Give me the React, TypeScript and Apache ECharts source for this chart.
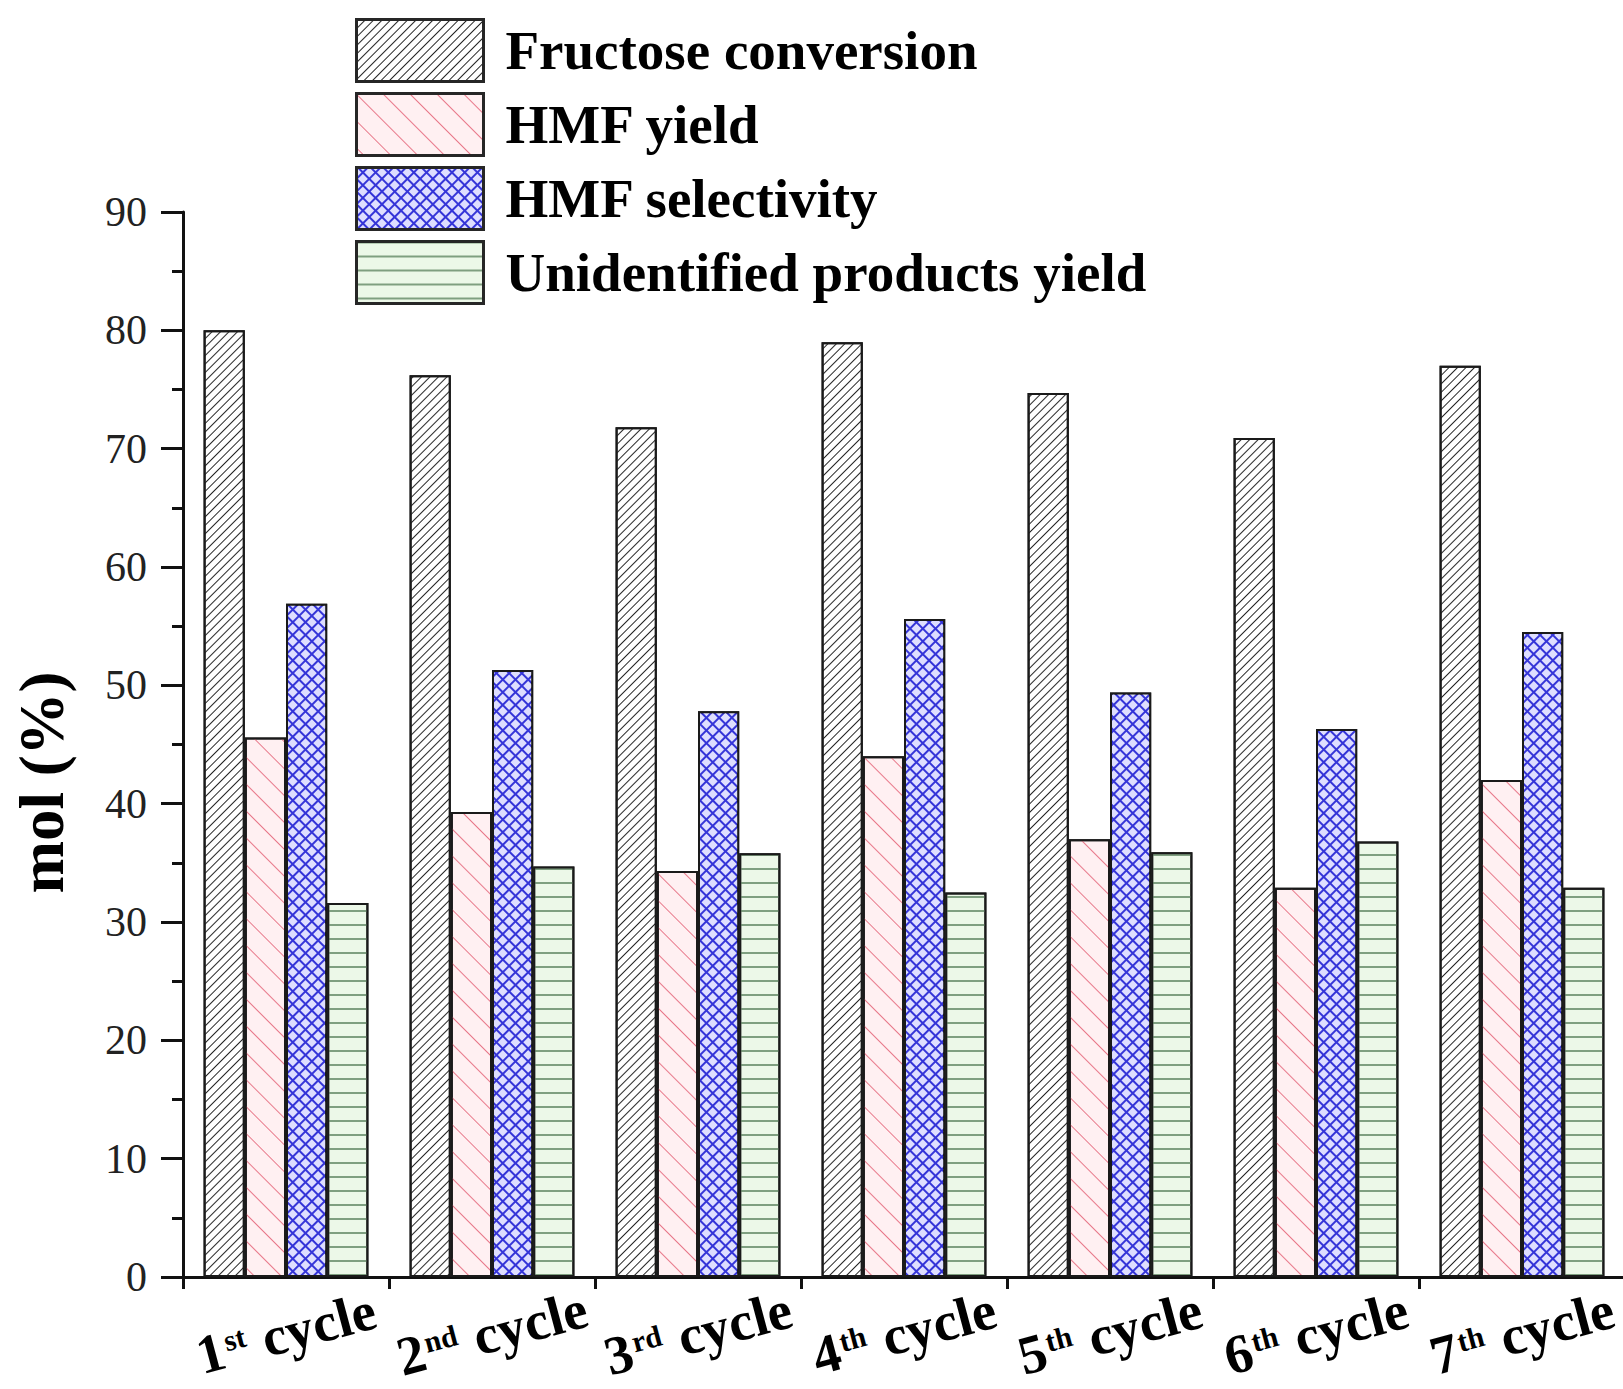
import React, { useEffect, useRef } from "react";
import * as echarts from "echarts";

const categories = ["1st cycle", "2nd cycle", "3rd cycle", "4th cycle", "5th cycle", "6th cycle", "7th cycle"];
const seriesNames = ["Fructose conversion", "HMF yield", "HMF selectivity", "Unidentified products yield"];
const fructoseConversion = [80.0, 76.2, 71.8, 79.0, 74.7, 70.9, 77.0];
const hmfYield = [45.6, 39.3, 34.3, 44.0, 37.0, 32.9, 42.0];
const hmfSelectivity = [56.9, 51.3, 47.8, 55.6, 49.4, 46.3, 54.5];
const unidentifiedYield = [31.6, 34.7, 35.8, 32.5, 35.9, 36.8, 32.9];
const yTicks = { min: 0, max: 90, interval: 10 };
const yAxisName = "mol (%)";

const FONT = "'Liberation Serif', 'Times New Roman', serif";

export default function App() {
  const ref = useRef<HTMLDivElement>(null);
  useEffect(() => {
    if (!ref.current) return;
    const chart = echarts.init(ref.current, null, { renderer: "svg" });
    const border = { borderColor: "#1a1a1a", borderWidth: 2 };
    const styles = [
      {
        color: "#ffffff",
        ...border,
        decal: { symbol: "rect", color: "#262626", dashArrayX: [1, 0], dashArrayY: [1, 5], rotation: -Math.PI / 4 },
      },
      {
        color: "#fff0f2",
        ...border,
        decal: { symbol: "rect", color: "#e8788a", dashArrayX: [1, 0], dashArrayY: [1, 18], rotation: Math.PI / 4 },
      },
      {
        color: "#3535d8",
        ...border,
        decal: { symbol: "rect", color: "#dedeff", dashArrayX: [7, 2], dashArrayY: [7, 2], rotation: Math.PI / 4 },
      },
      {
        color: "#ecf8e8",
        ...border,
        decal: { symbol: "rect", color: "#7f9f80", dashArrayX: [1, 0], dashArrayY: [2, 12], rotation: 0 },
      },
    ];
    const dataSets = [fructoseConversion, hmfYield, hmfSelectivity, unidentifiedYield];
    chart.setOption({
      animation: false,
      backgroundColor: "#ffffff",
      textStyle: { fontFamily: FONT },
      legend: {
        orient: "vertical",
        left: 355,
        top: 18,
        padding: 0,
        itemWidth: 127,
        itemHeight: 62,
        itemGap: 9,
        icon: "rect",
        selectedMode: false,
        data: seriesNames,
        itemStyle: { borderWidth: 3, borderColor: "#262626" },
        formatter: (name: string) => "{a|" + name + "}",
        textStyle: {
          rich: {
            a: {
              fontFamily: FONT,
              fontSize: 55,
              lineHeight: 60,
              fontWeight: "bold",
              color: "#000",
              padding: [0, 0, 0, 17],
            },
          },
        },
      },
      grid: {
        left: 183,
        top: 212,
        width: 1442,
        height: 1065,
        containLabel: false,
        outerBoundsMode: "none",
      },
      xAxis: {
        type: "category",
        data: categories,
        axisLine: { lineStyle: { color: "#111", width: 3 } },
        axisTick: { show: true, length: 12, lineStyle: { color: "#111", width: 3 } },
        axisLabel: {
          interval: 0,
          rotate: 15,
          align: "center",
          verticalAlign: "middle",
          margin: 56,
          color: "#000",
          formatter: (v: string) => {
            const m = v.match(/^(\d+)([a-z]+)\s(.+)$/);
            if (!m) return v;
            return "{n|" + m[1] + "}{s|" + m[2] + "}{c|" + m[3] + "}";
          },
          rich: {
            n: { fontFamily: FONT, fontSize: 55, lineHeight: 46, fontWeight: "bold", color: "#000" },
            s: {
              fontFamily: FONT,
              fontSize: 30,
              lineHeight: 28,
              fontWeight: "bold",
              color: "#000",
              verticalAlign: "top",
              padding: [0, 16, 0, 2],
            },
            c: { fontFamily: FONT, fontSize: 55, lineHeight: 46, fontWeight: "bold", color: "#000" },
          },
        },
        splitLine: { show: false },
      },
      yAxis: {
        type: "value",
        min: yTicks.min,
        max: yTicks.max,
        interval: yTicks.interval,
        name: yAxisName,
        nameLocation: "middle",
        nameGap: 110,
        nameTextStyle: {
          fontFamily: FONT,
          fontSize: 63,
          fontWeight: "bold",
          color: "#000",
          padding: [0, 76, 0, 0],
        },
        axisLine: { show: true, lineStyle: { color: "#111", width: 3 } },
        axisTick: { show: true, length: 22, lineStyle: { color: "#111", width: 3 } },
        minorTick: { show: true, splitNumber: 2, length: 11, lineStyle: { color: "#111", width: 3 } },
        axisLabel: { margin: 36, fontFamily: FONT, fontSize: 42, color: "#222" },
        splitLine: { show: false },
      },
      series: seriesNames.map((name, i) => ({
        name,
        type: "bar",
        data: dataSets[i],
        barGap: "0%",
        barCategoryGap: "20%",
        itemStyle: styles[i],
        emphasis: { disabled: true },
      })),
    });
    return () => chart.dispose();
  }, []);
  return (
    <div
      ref={ref}
      style={{ position: "absolute", left: 0, top: 0, width: 1623, height: 1389, background: "#fff" }}
    />
  );
}
